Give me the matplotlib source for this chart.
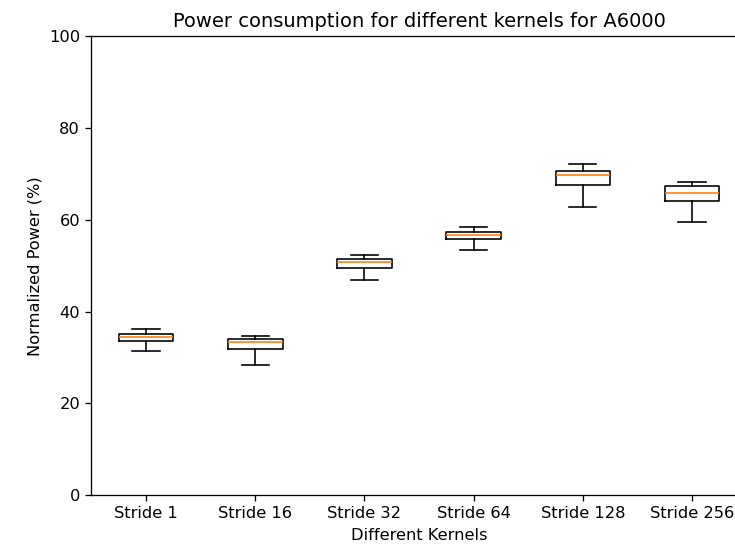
import matplotlib.pyplot as plt

kernels = ["Stride 1", "Stride 16", "Stride 32", "Stride 64", "Stride 128", "Stride 256"]
whis_low = [31.5, 28.3, 46.9, 53.5, 62.8, 59.5]
q1 = [33.65, 31.8, 49.6, 55.75, 67.6, 64.1]
median = [34.4, 33.45, 50.8, 56.8, 69.8, 65.8]
q3 = [35.2, 34.0, 51.4, 57.3, 70.6, 67.3]
whis_high = [36.15, 34.7, 52.3, 58.5, 72.2, 68.2]

stats = [
    dict(label=k, whislo=lo, q1=a, med=m, q3=b, whishi=hi, fliers=[])
    for k, lo, a, m, b, hi in zip(kernels, whis_low, q1, median, q3, whis_high)
]

dpi = 117
fig = plt.figure(figsize=(735 / dpi, 544 / dpi), dpi=dpi)
# the axes run a little past the right edge of the figure
ax = fig.add_axes([0.1244, 0.090, 0.8914, 0.843])
ax.bxp(stats, showfliers=False)
ax.spines["right"].set_visible(False)

ax.set_ylim(0, 100)
ax.set_title("Power consumption for different kernels for A6000")
ax.set_xlabel("Different Kernels")
ax.set_ylabel("Normalized Power (%)")

fig.savefig("out.png", dpi=dpi)
